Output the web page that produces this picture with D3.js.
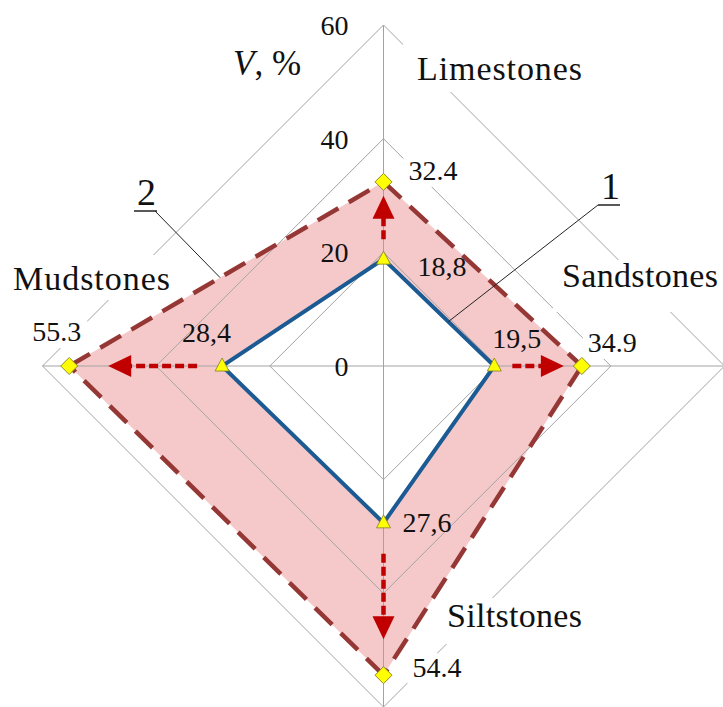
<!DOCTYPE html>
<html>
<head>
<meta charset="utf-8">
<script src="https://cdn.jsdelivr.net/npm/d3@7"></script>
<style>
  html, body { margin: 0; padding: 0; background: #fff; }
  svg { display: block; }
</style>
</head>
<body>
<svg id="chart" width="723" height="707"></svg>
<script>
// ---- data ----
const categories = ["Limestones", "Sandstones", "Siltstones", "Mudstones"];
const series1 = [18.8, 19.5, 27.6, 28.4];          // curve 1
const series2 = [32.4, 34.9, 54.4, 55.3];          // curve 2
const series1Labels = ["18,8", "19,5", "27,6", "28,4"];
const series2Labels = ["32.4", "34.9", "54.4", "55.3"];
const tickValues = [0, 20, 40, 60];
const tickLabels = ["0", "20", "40", "60"];

// ---- layout ----
const W = 723, H = 707;
const cx = 383.5, cy = 366, R = 341;
const SERIF = '"Liberation Serif"';
const svg = d3.select("#chart");
const g = svg.append("g").attr("transform", `translate(${cx},${cy})`);

// every label goes through this so they share one typeface
const label = (sel, size) => sel.append("text")
  .style("font-family", SERIF)
  .attr("font-size", size)
  .attr("fill", "#111");

const r = d3.scaleLinear().domain([0, 60]).range([0, R]);
const angle = d3.scaleLinear().domain([0, categories.length]).range([0, 2 * Math.PI]);

// polar -> cartesian (0 rad = up, clockwise)
const pt = (i, v) => {
  const a = angle(i);
  return [r(v) * Math.sin(a), -r(v) * Math.cos(a)];
};

const radial = d3.lineRadial()
  .angle((d, i) => angle(i))
  .radius(d => r(d))
  .curve(d3.curveLinearClosed);

// shaded band between curve 1 and curve 2
g.append("path")
  .attr("d", radial(series2) + radial(series1))
  .attr("fill", "#f5c9c9")
  .attr("fill-rule", "evenodd")
  .attr("stroke", "none");

// grid rings and spokes
const gridColor = "#a3a3a3";
tickValues.filter(t => t > 0).forEach(t => {
  g.append("path")
    .attr("d", radial(categories.map(() => t)))
    .attr("fill", "none")
    .attr("stroke", gridColor)
    .attr("stroke-width", 1);
});
categories.forEach((c, i) => {
  const [x, y] = pt(i, 60);
  g.append("line")
    .attr("x1", 0).attr("y1", 0).attr("x2", x).attr("y2", y)
    .attr("stroke", gridColor).attr("stroke-width", 1);
});

// category labels on white boxes
const catLayout = {
  Limestones: { x: 417, y: 80, w: 165, box: [403, 43, 195, 49] },
  Sandstones: { x: 562, y: 287, w: 156, box: [553, 260, 170, 52] },
  Siltstones: { x: 447, y: 627, w: 135, box: [438, 598, 150, 46] },
  Mudstones:  { x: 13,  y: 290, w: 157, box: [5, 255, 172, 45] }
};
categories.forEach(c => {
  const L = catLayout[c];
  svg.append("rect")
    .attr("x", L.box[0]).attr("y", L.box[1])
    .attr("width", L.box[2]).attr("height", L.box[3])
    .attr("fill", "#fff");
  label(svg, 34)
    .attr("x", L.x).attr("y", L.y)
    .attr("textLength", L.w)
    .attr("lengthAdjust", "spacing")
    .text(c);
});

// axis tick labels along the vertical spoke
tickValues.forEach((t, i) => {
  label(g, 28)
    .attr("x", -35)
    .attr("y", -r(t) + 10)
    .attr("text-anchor", "end")
    .text(tickLabels[i]);
});

// axis title
const title = label(svg, 35).attr("x", 233).attr("y", 75);
title.append("tspan").attr("font-style", "italic").text("V");
title.append("tspan").text(", %");

// curve 2 outline: dashed, each side starting from a vertex
const p2 = series2.map((v, i) => pt(i, v));
p2.forEach((a, i) => {
  const b = p2[(i + 1) % p2.length];
  g.append("line")
    .attr("x1", a[0]).attr("y1", a[1]).attr("x2", b[0]).attr("y2", b[1])
    .attr("stroke", "#953735")
    .attr("stroke-width", 4.5)
    .attr("stroke-dasharray", "24,12");
});

// curve 1 outline
g.append("path")
  .attr("d", radial(series1))
  .attr("fill", "none")
  .attr("stroke", "#1c5a93")
  .attr("stroke-width", 4)
  .attr("stroke-linejoin", "miter");

// red arrows from curve 1 to curve 2 along each spoke
const startGap = [20, 18, 31, 25];
const endGap = [14, 18, 36, 39];
const headLen = 23, headHalf = 11;
categories.forEach((c, i) => {
  const a = angle(i);
  const ux = Math.sin(a), uy = -Math.cos(a);
  const r0 = r(series1[i]) + startGap[i];
  const rTip = r(series2[i]) - endGap[i];
  const rBase = rTip - headLen;
  g.append("line")
    .attr("x1", ux * r0).attr("y1", uy * r0)
    .attr("x2", ux * (rBase + 2)).attr("y2", uy * (rBase + 2))
    .attr("stroke", "#c00000")
    .attr("stroke-width", 4.5)
    .attr("stroke-dasharray", "9,4");
  const px = -uy, py = ux;
  const head = [
    [ux * rTip, uy * rTip],
    [ux * rBase + px * headHalf, uy * rBase + py * headHalf],
    [ux * rBase - px * headHalf, uy * rBase - py * headHalf]
  ];
  g.append("path")
    .attr("d", "M" + head.map(p => p.join(",")).join("L") + "Z")
    .attr("fill", "#c00000");
});

// value labels
const s1Off = [[34, 17], [-2, -18], [19, 9], [-40, -24]];
const s2Off = [[25, -2], [6, -14], [29, 2], [-37, -25]];
series1.forEach((v, i) => {
  const [x, y] = pt(i, v);
  label(g, 28)
    .attr("x", x + s1Off[i][0]).attr("y", y + s1Off[i][1])
    .text(series1Labels[i]);
});
series2.forEach((v, i) => {
  const [x, y] = pt(i, v);
  const tx = x + s2Off[i][0], ty = y + s2Off[i][1];
  g.append("rect")
    .attr("x", tx - 5).attr("y", ty - 24)
    .attr("width", 60).attr("height", 31)
    .attr("fill", "#fff");
  label(g, 28)
    .attr("x", tx).attr("y", ty)
    .text(series2Labels[i]);
});

// markers
series1.forEach((v, i) => {
  const [x, y] = pt(i, v);
  g.append("path")
    .attr("d", "M0,-8L7,5L-7,5Z")
    .attr("transform", `translate(${x},${y})`)
    .attr("fill", "#ffff00")
    .attr("stroke", "#7f7f2a")
    .attr("stroke-width", 0.8);
});
series2.forEach((v, i) => {
  const [x, y] = pt(i, v);
  g.append("path")
    .attr("d", "M0,-8.5L8.5,0L0,8.5L-8.5,0Z")
    .attr("transform", `translate(${x},${y})`)
    .attr("fill", "#ffff00")
    .attr("stroke", "#8c8c1e")
    .attr("stroke-width", 1);
});

// callouts "1" and "2" with leader lines to their curves
const lerp = (a, b, t) => [a[0] + (b[0] - a[0]) * t, a[1] + (b[1] - a[1]) * t];
const p1 = series1.map((v, i) => pt(i, v));
const end1 = lerp(p1[0], p1[1], 0.585);
const end2 = lerp(p2[3], p2[0], 0.48);

const callouts = [
  { text: "1", x: 601, y: 199, ux1: 598, ux2: 620, uy: 205, lx: 598, ly: 205, end: end1 },
  { text: "2", x: 137, y: 205, ux1: 134, ux2: 157, uy: 211, lx: 155, ly: 211, end: end2 }
];
callouts.forEach(c => {
  svg.append("line")
    .attr("x1", c.lx).attr("y1", c.ly)
    .attr("x2", c.end[0] + cx).attr("y2", c.end[1] + cy)
    .attr("stroke", "#222").attr("stroke-width", 1);
  svg.append("line")
    .attr("x1", c.ux1).attr("y1", c.uy).attr("x2", c.ux2).attr("y2", c.uy)
    .attr("stroke", "#222").attr("stroke-width", 1.5);
  label(svg, 38)
    .attr("x", c.x).attr("y", c.y)
    .text(c.text);
});
</script>
</body>
</html>
